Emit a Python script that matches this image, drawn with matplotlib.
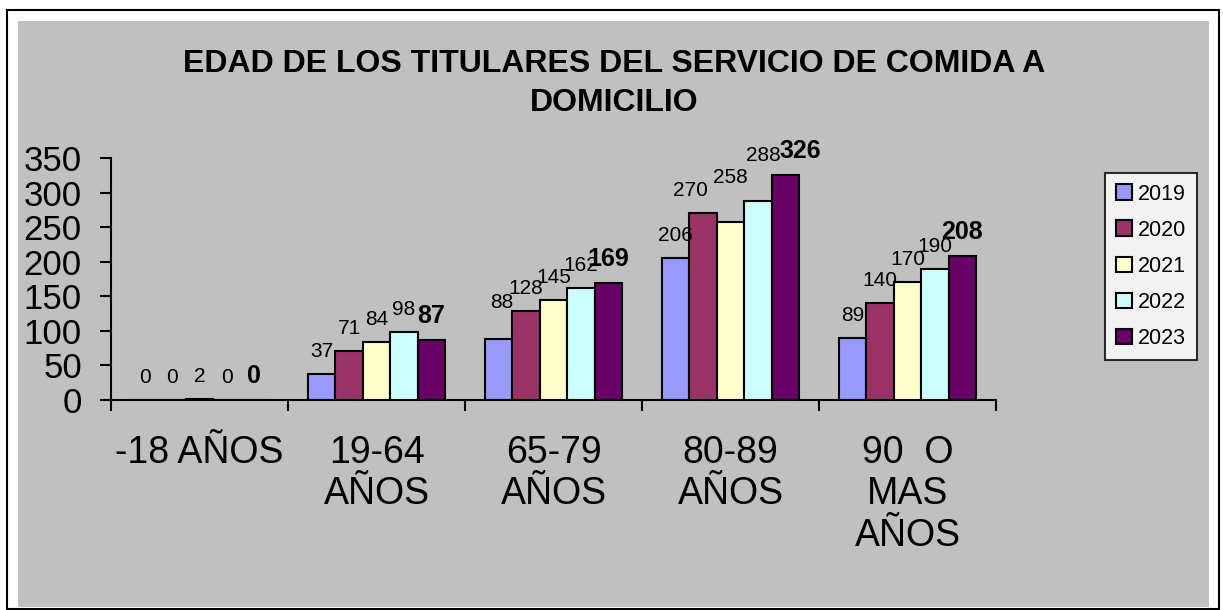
import numpy as np
import matplotlib; matplotlib.use("Agg"); import matplotlib.pyplot as plt
from matplotlib.patches import Rectangle

plt.rcParams['font.family'] = ['Liberation Sans', 'DejaVu Sans']

# data
categories = ["-18 AÑOS", "19-64\nAÑOS", "65-79\nAÑOS", "80-89\nAÑOS", "90  O\nMAS\nAÑOS"]
years = ["2019", "2020", "2021", "2022", "2023"]
v2019 = [0, 37, 88, 206, 89]
v2020 = [0, 71, 128, 270, 140]
v2021 = [2, 84, 145, 258, 170]
v2022 = [0, 98, 162, 288, 190]
v2023 = [0, 87, 169, 326, 208]
series = [v2019, v2020, v2021, v2022, v2023]
colors = ["#9999FF", "#993366", "#FFFFCC", "#CCFFFF", "#660066"]
title_l1 = "EDAD DE LOS TITULARES DEL SERVICIO DE COMIDA A"
title_l2 = "DOMICILIO"

# manual label nudges (pixels) as placed in the original chart: (series, category) -> (dx, dy)
nudge = {(0, 2): (3, 14), (1, 3): (-13, 0), (2, 3): (0, 22), (3, 3): (5, 23), (4, 3): (15, 0)}

fig = plt.figure(figsize=(12.23, 6.10), dpi=100)
W, H = 1223, 610
px = 72 / fig.dpi
# outer frame + grey chart area
fig.patches.append(Rectangle((7/W, 1-609/H), 1212/W, 599/H, transform=fig.transFigure,
                             facecolor="white", edgecolor="black", lw=1.5, zorder=-2))
fig.patches.append(Rectangle((18/W, 1-607/H), 1191/W, 586/H, transform=fig.transFigure,
                             facecolor="#C0C0C0", edgecolor="none", zorder=-1))

ax = fig.add_axes([111/W, 1-400/H, 885/W, 242/H])
ax.set_facecolor("none")
x = np.arange(len(categories))
bw = 0.155
for i, (vals, c, yr) in enumerate(zip(series, colors, years)):
    pos = x + (i - 2) * bw
    ax.bar(pos, vals, bw, color=c, edgecolor="black", lw=1.5, label=yr, zorder=3)
    for j, (p, v) in enumerate(zip(pos, vals)):
        bold = yr == "2023"
        dx, dy = nudge.get((i, j), (0, 0))
        ax.annotate(str(v), (p, v), xytext=(dx * px, (17 + dy) * px), textcoords="offset points",
                    ha="center", va="baseline", fontsize=18 if bold else 15,
                    fontweight="bold" if bold else "normal", zorder=4, annotation_clip=False)

ax.set_xlim(-0.5, len(categories) - 0.5)
ax.set_ylim(0, 350)
ax.set_yticks(np.arange(0, 351, 50))
ax.tick_params(axis="y", labelsize=25, length=8, width=1.5, pad=13, direction="out")
ax.set_xticks(x)
ax.set_xticklabels(categories, fontsize=27, linespacing=1.2)
ax.tick_params(axis="x", which="major", length=0, pad=25)
ax.set_xticks(np.arange(-0.5, len(categories), 1), minor=True)
ax.tick_params(axis="x", which="minor", length=8, width=1.5, direction="out")
for s in ["top", "right"]:
    ax.spines[s].set_visible(False)
for s in ["left", "bottom"]:
    ax.spines[s].set_linewidth(1.5)

# title, two lines placed like the original
fig.text(614/W, 1-72/H, title_l1, ha="center", va="baseline", fontsize=23, fontweight="bold")
fig.text(614/W, 1-111/H, title_l2, ha="center", va="baseline", fontsize=23, fontweight="bold")

leg = ax.legend(loc="upper left", bbox_to_anchor=(1105/W, 1-173/H), bbox_transform=fig.transFigure,
                fontsize=15.5, frameon=True, fancybox=False, edgecolor="black",
                handlelength=0.75, handleheight=0.75, handletextpad=0.3, labelspacing=0.7,
                borderpad=0.5, borderaxespad=0)
leg.get_frame().set_linewidth(1.5)

fig.savefig("out.png", dpi=100)
